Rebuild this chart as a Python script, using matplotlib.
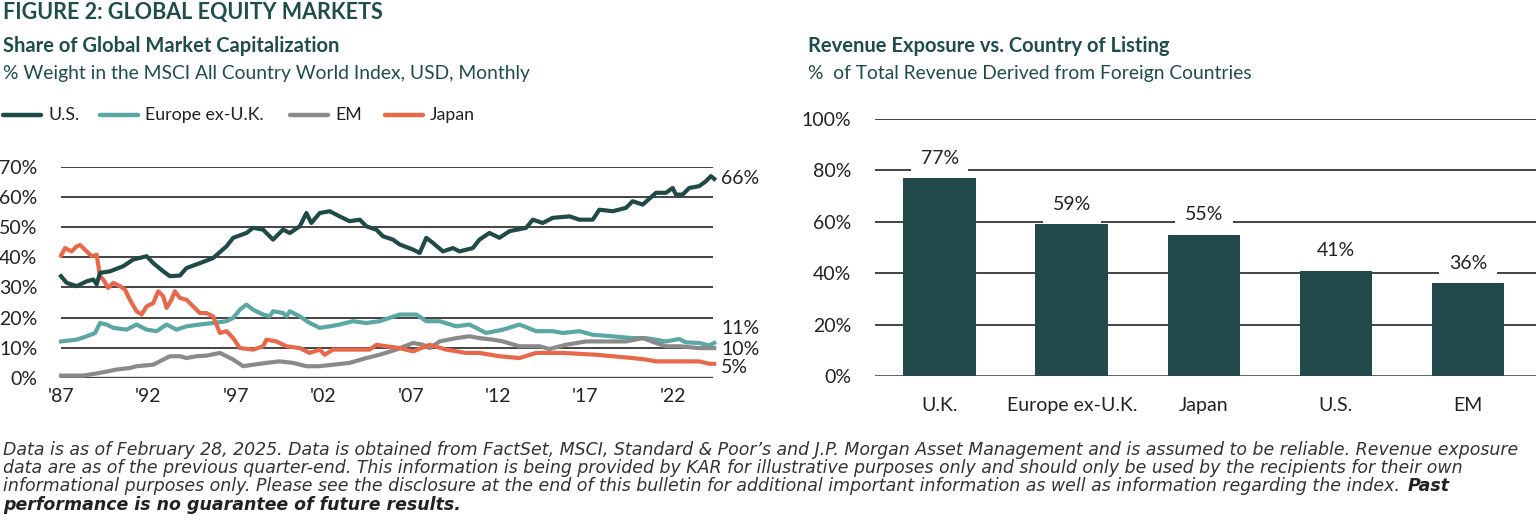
import matplotlib
matplotlib.use("Agg")
import matplotlib.pyplot as plt

plt.rcParams['font.family'] = ['Lato', 'DejaVu Sans']

# ---- left chart: share of ACWI (decimal years) ----
us_x = [1987.90, 1988.22, 1988.80, 1989.37, 1989.75, 1989.94, 1990.13, 1990.70, 1991.46, 1992.03,
        1992.80, 1993.18, 1993.75, 1994.13, 1994.70, 1995.08, 1995.84, 1996.60, 1997.37, 1997.75,
        1998.51, 1998.89, 1999.46, 2000.03, 2000.60, 2000.99, 2001.56, 2001.94, 2002.22, 2002.70,
        2003.27, 2003.84, 2004.41, 2004.99, 2005.37, 2005.94, 2006.32, 2006.89, 2007.27, 2008.04,
        2008.42, 2008.80, 2009.18, 2009.75, 2010.32, 2010.70, 2011.46, 2011.84, 2012.41, 2012.98,
        2013.56, 2014.51, 2014.89, 2015.46, 2016.03, 2016.99, 2017.56, 2018.32, 2018.70, 2019.46,
        2020.22, 2020.60, 2021.18, 2021.94, 2022.51, 2022.89, 2023.08, 2023.46, 2023.84, 2024.41,
        2024.79, 2025.08, 2025.27]
us_y = [33.7, 31.5, 30.4, 32.0, 32.6, 31.0, 34.8, 35.3, 37.0, 39.2,
        40.3, 38.0, 35.3, 33.7, 33.9, 36.4, 38.0, 39.7, 43.6, 46.4,
        48.0, 49.7, 49.1, 45.8, 49.1, 48.0, 50.2, 54.6, 51.3, 54.6,
        55.2, 53.5, 51.9, 52.4, 50.2, 49.1, 46.9, 45.8, 44.2, 42.5,
        41.4, 46.4, 44.7, 41.9, 43.0, 41.9, 43.0, 45.8, 48.0, 46.4,
        48.6, 49.7, 52.4, 51.3, 53.0, 53.5, 52.4, 52.4, 55.7, 55.2,
        56.3, 58.5, 57.4, 61.3, 61.3, 62.9, 60.7, 60.7, 62.9, 63.5,
        65.1, 66.8, 65.9]

eu_x = [1987.90, 1988.80, 1989.37, 1989.85, 1990.13, 1990.51, 1990.89, 1991.65, 1992.22, 1992.80,
        1993.37, 1993.94, 1994.51, 1995.08, 1995.84, 1996.60, 1997.37, 1997.75, 1998.13, 1998.51,
        1998.89, 1999.46, 1999.84, 2000.03, 2000.60, 2000.80, 2000.99, 2001.56, 2002.13, 2002.70,
        2003.27, 2003.84, 2004.60, 2005.37, 2006.13, 2007.27, 2008.23, 2008.80, 2009.56, 2010.51,
        2011.27, 2012.22, 2013.18, 2014.13, 2015.08, 2016.03, 2016.60, 2017.56, 2018.32, 2019.46,
        2020.60, 2021.37, 2022.51, 2023.27, 2023.65, 2024.41, 2024.98, 2025.27]
eu_y = [12.1, 12.7, 13.8, 14.9, 18.2, 17.7, 16.6, 16.0, 17.7, 16.0,
        15.5, 17.7, 16.0, 17.1, 17.7, 18.2, 18.8, 19.9, 22.6, 24.3,
        22.6, 21.0, 20.4, 22.1, 21.5, 20.4, 22.1, 20.4, 18.2, 16.6,
        17.1, 17.7, 18.8, 18.2, 18.8, 21.0, 21.0, 18.8, 18.8, 17.1,
        17.7, 14.9, 16.0, 17.7, 15.5, 15.5, 14.9, 15.5, 14.3, 13.8,
        13.2, 13.2, 12.1, 12.9, 11.8, 11.6, 10.8, 11.6]

em_x = [1987.90, 1989.18, 1990.13, 1991.08, 1991.84, 1992.22, 1993.18, 1993.75, 1994.13, 1994.70,
        1995.08, 1995.65, 1996.22, 1996.99, 1997.75, 1998.32, 1998.89, 1999.65, 2000.41, 2001.18,
        2001.94, 2002.70, 2003.46, 2004.41, 2005.37, 2006.13, 2007.08, 2008.04, 2008.61, 2008.99,
        2009.56, 2010.51, 2011.27, 2011.84, 2012.60, 2013.18, 2014.13, 2015.27, 2015.84, 2016.79,
        2017.94, 2019.08, 2020.22, 2021.18, 2021.94, 2022.51, 2023.27, 2024.41, 2025.27]
em_y = [0.8, 0.8, 1.7, 2.8, 3.3, 3.9, 4.4, 6.1, 7.2, 7.2,
        6.6, 7.2, 7.4, 8.3, 6.1, 3.9, 4.4, 5.0, 5.5, 5.0,
        3.9, 3.9, 4.4, 5.0, 6.6, 7.7, 9.4, 11.6, 11.0, 9.9,
        12.1, 13.2, 13.8, 13.2, 12.7, 12.1, 10.5, 10.5, 9.6, 11.0,
        12.1, 12.1, 12.1, 13.2, 11.6, 10.5, 10.5, 9.9, 9.9]

jp_x = [1987.90, 1988.13, 1988.51, 1988.80, 1988.99, 1989.37, 1989.65, 1989.94, 1990.13, 1990.32,
        1990.60, 1990.89, 1991.27, 1991.56, 1991.84, 1992.22, 1992.51, 1992.80, 1993.18, 1993.46,
        1993.75, 1993.94, 1994.22, 1994.41, 1994.70, 1995.08, 1995.46, 1995.84, 1996.22, 1996.60,
        1996.99, 1997.37, 1997.75, 1998.13, 1998.89, 1999.46, 1999.65, 2000.22, 2000.80, 2001.56,
        2002.13, 2002.70, 2002.99, 2003.46, 2004.22, 2004.99, 2005.56, 2005.94, 2006.51, 2007.27,
        2008.04, 2008.99, 2009.94, 2011.08, 2011.84, 2012.98, 2014.13, 2015.08, 2016.60, 2018.51,
        2019.46, 2020.60, 2021.37, 2021.94, 2022.89, 2024.41, 2024.98, 2025.27]
jp_y = [40.5, 43.0, 41.9, 43.6, 44.0, 41.9, 40.3, 40.8, 33.7, 32.6,
        29.8, 31.5, 30.4, 29.3, 25.9, 22.1, 21.0, 23.7, 24.8, 28.7,
        27.0, 23.2, 25.9, 28.7, 26.5, 25.9, 23.7, 21.5, 21.5, 20.4,
        14.9, 15.5, 13.2, 9.9, 9.4, 10.5, 12.7, 12.1, 10.5, 9.9,
        8.3, 9.4, 7.7, 9.4, 9.4, 9.4, 9.4, 11.0, 10.5, 9.9,
        8.8, 11.0, 9.4, 8.3, 8.3, 7.2, 6.6, 8.3, 8.3, 7.7,
        7.2, 6.6, 6.1, 5.5, 5.5, 5.5, 4.7, 4.7]

series_names = ['U.S.', 'Europe ex-U.K.', 'EM', 'Japan']
end_labels = ['66%', '11%', '10%', '5%']
year_ticks = [1987.9, 1992.9, 1997.9, 2002.9, 2007.9, 2012.9, 2017.9, 2022.9]
year_labels = ["'87", "'92", "'97", "'02", "'07", "'12", "'17", "'22"]

# ---- right chart: revenue exposure ----
regions = ['U.K.', 'Europe ex-U.K.', 'Japan', 'U.S.', 'EM']
foreign_rev = [77, 59, 55, 41, 36]

c_us = '#1f4a47'
c_eu = '#5aa7a3'
c_em = '#8a8a8a'
c_jp = '#e8694a'
c_head = '#1f4d4a'
c_txt = '#222222'
tk = 14

fig = plt.figure(figsize=(15.36, 5.2), dpi=100)

fig.text(3/1536, 1-12/520, 'FIGURE 2: GLOBAL EQUITY MARKETS', fontsize=15.5, fontweight='bold',
         color=c_head, va='center', ha='left')
fig.text(3/1536, 1-46/520, 'Share of Global Market Capitalization', fontsize=14.5, fontweight='bold',
         color=c_head, va='center')
fig.text(3/1536, 1-74/520, '% Weight in the MSCI All Country World Index, USD, Monthly', fontsize=13.9,
         color=c_head, va='center')
fig.text(808/1536, 1-46/520, 'Revenue Exposure vs. Country of Listing', fontsize=14.5, fontweight='bold',
         color=c_head, va='center')
fig.text(808/1536, 1-74/520, '%  of Total Revenue Derived from Foreign Countries', fontsize=13.9,
         color=c_head, va='center')

# ---- left axes ----
ax1 = fig.add_axes([61/1536, 1-378/520, 652/1536, (378-166.5)/520])
for v in range(10, 80, 10):
    ax1.axhline(v, color='#111111', lw=1.1, zorder=1)
ax1.axhline(0, color='#444444', lw=2.4, zorder=1)

lines = [(eu_x, eu_y, c_eu), (em_x, em_y, c_em), (jp_x, jp_y, c_jp), (us_x, us_y, c_us)]
for xs, ys, c in lines:
    ax1.plot(xs, ys, color=c, lw=3, solid_joinstyle='round', zorder=3, clip_on=False)

ends = [(us_x, us_y, end_labels[0], 0), (eu_x, eu_y, end_labels[1], 14),
        (em_x, em_y, end_labels[2], -1), (jp_x, jp_y, end_labels[3], -4)]
for xs, ys, lab, dy in ends:
    ax1.annotate(lab, (xs[-1], ys[-1]), xytext=(7, dy), textcoords='offset pixels',
                 fontsize=tk, color=c_txt, va='center', ha='left', annotation_clip=False)

ax1.set_xlim(1987.9, 2025.2)
ax1.set_ylim(0, 70)
ax1.set_yticks(range(0, 80, 10))
ax1.set_yticklabels([f'{v}%' for v in range(0, 80, 10)])
ax1.set_xticks(year_ticks)
ax1.set_xticklabels(year_labels)
ax1.tick_params(length=0, labelsize=tk, colors=c_txt)
ax1.tick_params(axis='y', pad=17)
ax1.tick_params(axis='x', pad=7)
for s in ax1.spines.values():
    s.set_visible(False)

# legend row
leg_cols = [c_us, c_eu, c_em, c_jp]
leg_x = [3, 100, 290, 385]
for name, c, lx in zip(series_names, leg_cols, leg_x):
    fig.lines.append(plt.Line2D([lx/1536, (lx+38)/1536], [1-115/520, 1-115/520], color=c, lw=3.2,
                                solid_capstyle='round', transform=fig.transFigure))
    fig.text((lx+45)/1536, 1-115/520, name, fontsize=12.8, color=c_txt, va='center')

# ---- right axes ----
ax2 = fig.add_axes([875/1536, 1-376/520, 661/1536, (376-119)/520])
for v in range(20, 120, 20):
    ax2.axhline(v, color='#111111', lw=1.1, zorder=1)
ax2.axhline(0, color='#333333', lw=1.8, zorder=1)
xpos = range(len(regions))
bars = ax2.bar(xpos, foreign_rev, width=0.55, color='#224a4a', zorder=2)
for b, v in zip(bars, foreign_rev):
    ax2.annotate(f'{v}%', (b.get_x() + b.get_width()/2, v), xytext=(0, 20), textcoords='offset pixels',
                 ha='center', va='center', fontsize=tk, color=c_txt, zorder=4,
                 bbox=dict(boxstyle='square,pad=0.5', fc='white', ec='none'))
ax2.set_xlim(-0.49, 4.515)
ax2.set_ylim(0, 100)
ax2.set_yticks(range(0, 120, 20))
ax2.set_yticklabels([f'{v}%' for v in range(0, 120, 20)])
ax2.set_xticks(list(xpos))
ax2.set_xticklabels(regions)
ax2.tick_params(length=0, labelsize=tk, colors=c_txt)
ax2.tick_params(axis='y', pad=17)
ax2.tick_params(axis='x', pad=15)
for s in ax2.spines.values():
    s.set_visible(False)

# ---- footnote (sized so the first line runs to the right edge like the original) ----
foot = ["Data is as of February 28, 2025. Data is obtained from FactSet, MSCI, Standard & Poor\u2019s and J.P. Morgan Asset Management and is assumed to be reliable. Revenue exposure",
        "data are as of the previous quarter-end. This information is being provided by KAR for illustrative purposes only and should only be used by the recipients for their own",
        "informational purposes only. Please see the disclosure at the end of this bulletin for additional important information as well as information regarding the index. "]
foot_y = [450, 468, 486]
fn_font = ['DejaVu Sans']
fn_size = 12.5
texts = [fig.text(3/1536, 1-fy/520, line, fontsize=fn_size, style='italic', family=fn_font,
                  color='#333333', va='center') for line, fy in zip(foot, foot_y)]
r = fig.canvas.get_renderer()
w = texts[0].get_window_extent(renderer=r).width
fn_size = fn_size * 1514 / w
for t in texts:
    t.set_fontsize(fn_size)
bb = texts[2].get_window_extent(renderer=r)
fig.text(bb.x1/1536 + 2/1536, 1-486/520, 'Past', fontsize=fn_size, style='italic', fontweight='bold',
         family=fn_font, color='#222222', va='center')
fig.text(3/1536, 1-505/520, 'performance is no guarantee of future results.', fontsize=fn_size,
         style='italic', fontweight='bold', family=fn_font, color='#222222', va='center')

fig.savefig('out.png', dpi=100)
